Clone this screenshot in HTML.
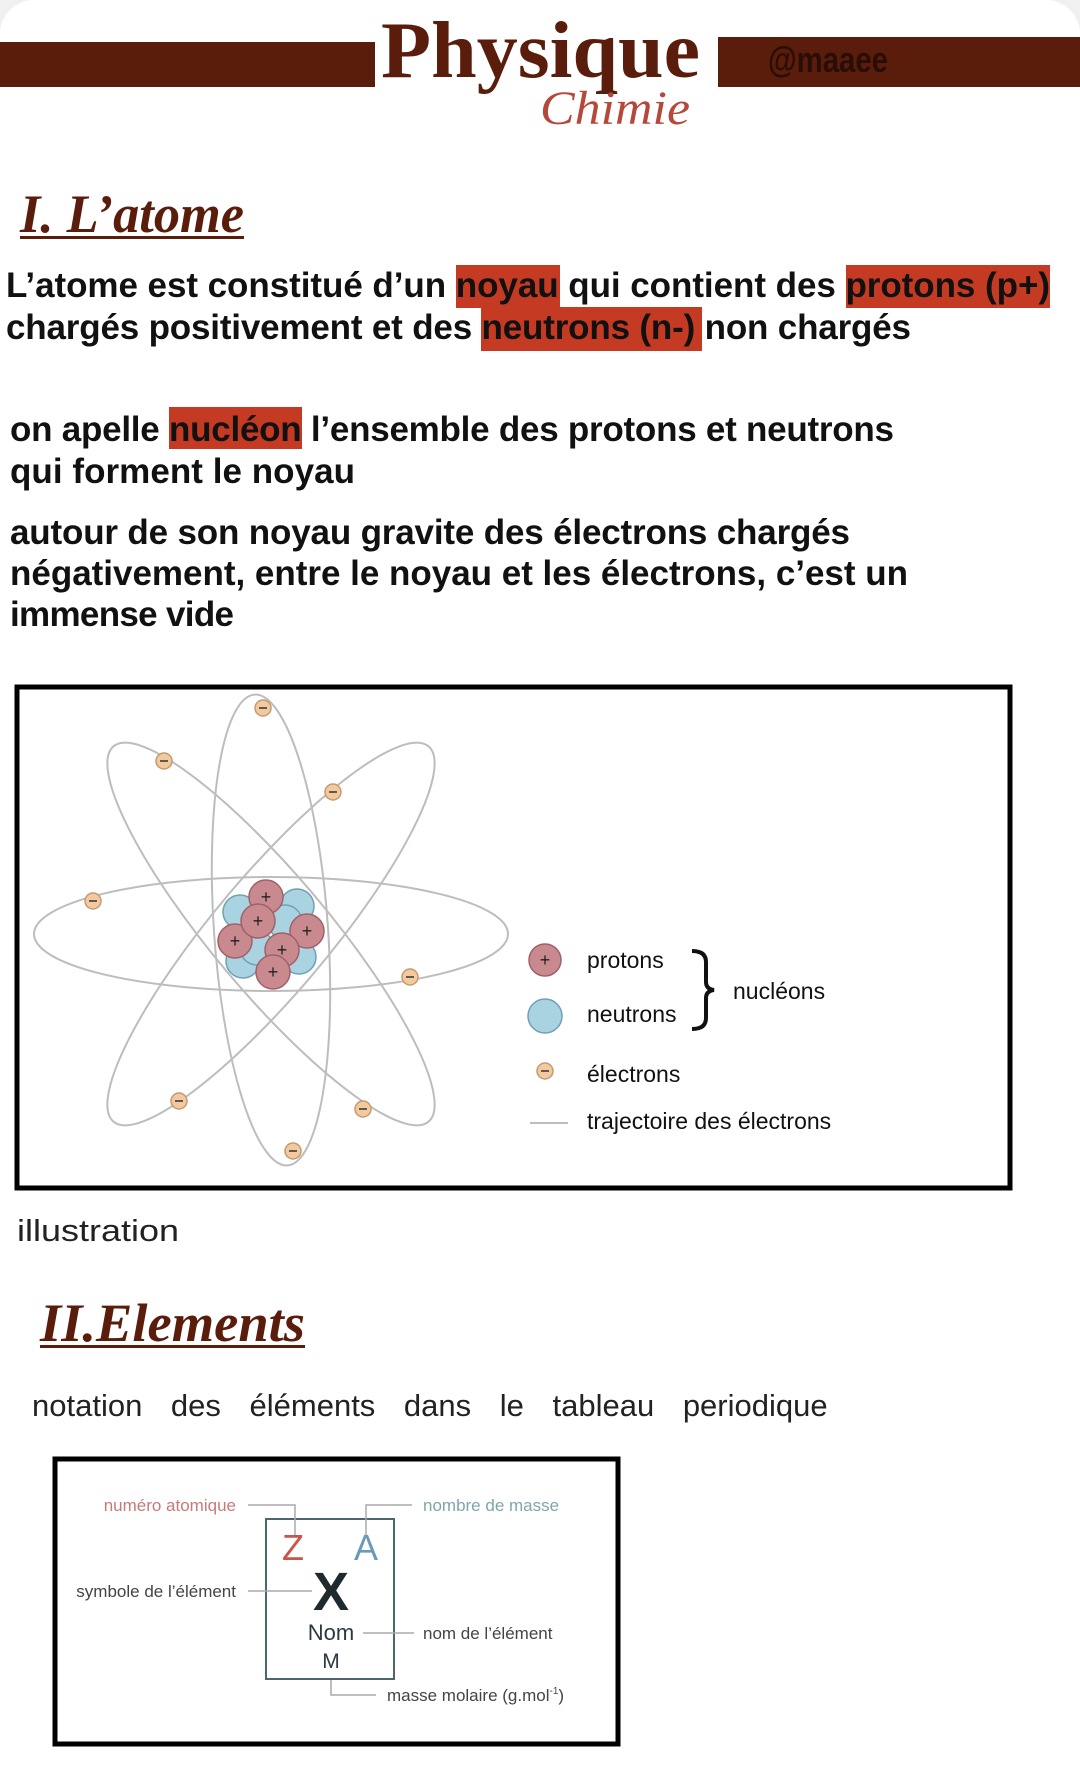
<!DOCTYPE html>
<html><head><meta charset="utf-8"><style>
html,body{margin:0;padding:0;background:#f0f0f0;}
.card{position:relative;width:1080px;height:1769px;background:#fff;border-radius:34px 34px 0 0;overflow:hidden;}
svg{position:absolute;left:0;top:0;}
</style></head><body><div class="card">
<svg width="1080" height="1769" viewBox="0 0 1080 1769" xmlns="http://www.w3.org/2000/svg">
<rect x="0" y="42" width="375" height="45" fill="#5a1d0c"/>
<rect x="718" y="37" width="362" height="50" fill="#5a1d0c"/>
<text x="768" y="72" font-family="Liberation Sans Narrow, Liberation Sans, sans-serif" font-weight="bold" font-size="36" fill="#2a0d06" textLength="120" lengthAdjust="spacingAndGlyphs">@maaee</text>
<text x="381" y="77" font-family="Liberation Serif, serif" font-weight="bold" font-size="80" fill="#5a1d0c" textLength="319" lengthAdjust="spacingAndGlyphs">Physique</text>
<text x="540" y="124" font-family="Liberation Serif, serif" font-style="italic" font-size="48" fill="#b5483a" textLength="150" lengthAdjust="spacingAndGlyphs">Chimie</text>
<text x="20" y="232" font-family="Liberation Serif, serif" font-weight="bold" font-style="italic" font-size="54" fill="#5a1d0c" textLength="224" lengthAdjust="spacingAndGlyphs">I. L’atome</text>
<rect x="20" y="236" width="224" height="3" fill="#5a1d0c"/>
<g fill="#c43a22">
<rect x="456" y="265" width="104" height="43"/>
<rect x="846" y="265" width="204" height="43"/>
<rect x="481" y="307" width="221" height="44"/>
<rect x="169" y="407" width="133" height="42"/>
</g>
<g font-family="Liberation Sans, sans-serif" font-weight="bold" font-size="35" fill="#111" lengthAdjust="spacingAndGlyphs">
<text x="6" y="297" textLength="1044">L’atome est constitué d’un noyau qui contient des protons (p+)</text>
<text x="6" y="339" textLength="905">chargés positivement et des neutrons (n-) non chargés</text>
<text x="10" y="441" textLength="884">on apelle nucléon l’ensemble des protons et neutrons</text>
<text x="10" y="483" textLength="345">qui forment le noyau</text>
<text x="10" y="544" textLength="840">autour de son noyau gravite des électrons chargés</text>
<text x="10" y="585" textLength="898">négativement, entre le noyau et les électrons, c’est un</text>
<text x="10" y="626" textLength="224">immense vide</text>
</g>
<rect x="17" y="687" width="993" height="501" fill="none" stroke="#000" stroke-width="5"/>
<g fill="none" stroke="#bdbdbd" stroke-width="2">
<ellipse cx="271" cy="934" rx="237" ry="57"/>
<ellipse cx="271" cy="930" rx="236" ry="57" transform="rotate(86 271 930)"/>
<ellipse cx="271" cy="934" rx="245" ry="58" transform="rotate(50 271 934)"/>
<ellipse cx="271" cy="934" rx="245" ry="58" transform="rotate(-50 271 934)"/>
</g>
<g fill="#f3c9a0" stroke="#c49a70" stroke-width="1.5">
<circle cx="263" cy="708" r="8"/><circle cx="164" cy="761" r="8"/><circle cx="333" cy="792" r="8"/><circle cx="93" cy="901" r="8"/><circle cx="410" cy="977" r="8"/><circle cx="179" cy="1101" r="8"/><circle cx="363" cy="1109" r="8"/><circle cx="293" cy="1151" r="8"/>
<circle cx="545" cy="1071" r="8"/>
</g>
<g stroke="#333" stroke-width="1.5">
<line x1="259" y1="708" x2="267" y2="708"/><line x1="160" y1="761" x2="168" y2="761"/><line x1="329" y1="792" x2="337" y2="792"/><line x1="89" y1="901" x2="97" y2="901"/><line x1="406" y1="977" x2="414" y2="977"/><line x1="175" y1="1101" x2="183" y2="1101"/><line x1="359" y1="1109" x2="367" y2="1109"/><line x1="289" y1="1151" x2="297" y2="1151"/><line x1="541" y1="1071" x2="549" y2="1071"/>
</g>
<g stroke-width="1.5">
<circle cx="240" cy="912" r="17" fill="#a9d3e0" stroke="#6fa0b5"/>
<circle cx="297" cy="906" r="17" fill="#a9d3e0" stroke="#6fa0b5"/>
<circle cx="285" cy="922" r="17" fill="#a9d3e0" stroke="#6fa0b5"/>
<circle cx="243" cy="961" r="17" fill="#a9d3e0" stroke="#6fa0b5"/>
<circle cx="299" cy="957" r="17" fill="#a9d3e0" stroke="#6fa0b5"/>
<circle cx="257" cy="948" r="17" fill="#a9d3e0" stroke="#6fa0b5"/>
<circle cx="266" cy="897" r="17" fill="#c98a8f" stroke="#a0606a"/>
<circle cx="307" cy="931" r="17" fill="#c98a8f" stroke="#a0606a"/>
<circle cx="235" cy="941" r="17" fill="#c98a8f" stroke="#a0606a"/>
<circle cx="258" cy="921" r="17" fill="#c98a8f" stroke="#a0606a"/>
<circle cx="282" cy="950" r="17" fill="#c98a8f" stroke="#a0606a"/>
<circle cx="273" cy="972" r="17" fill="#c98a8f" stroke="#a0606a"/>
<circle cx="545" cy="960" r="16" fill="#c98a8f" stroke="#a0606a"/>
<circle cx="545" cy="1016" r="17" fill="#a9d3e0" stroke="#6fa0b5"/>
</g>
<g font-family="Liberation Sans, sans-serif" font-size="18" fill="#222" text-anchor="middle">
<text x="266" y="903">+</text><text x="307" y="937">+</text><text x="235" y="947">+</text><text x="258" y="927">+</text><text x="282" y="956">+</text><text x="273" y="978">+</text><text x="545" y="966">+</text>
</g>
<g font-family="Liberation Sans Narrow, Liberation Sans, sans-serif" font-size="23" fill="#111">
<text x="587" y="968">protons</text>
<text x="587" y="1022">neutrons</text>
<text x="733" y="999">nucléons</text>
<text x="587" y="1082">électrons</text>
<text x="587" y="1129">trajectoire des électrons</text>
</g>
<path d="M692 951 Q706 951 706 962 L706 982 Q706 989 714 990 Q706 991 706 998 L706 1018 Q706 1029 692 1029" fill="none" stroke="#111" stroke-width="4"/>
<line x1="530" y1="1123" x2="568" y2="1123" stroke="#bdbdbd" stroke-width="2"/>
<text x="17" y="1241" font-family="Liberation Sans, sans-serif" font-size="31" fill="#222" textLength="162" lengthAdjust="spacingAndGlyphs">illustration</text>
<text x="40" y="1341" font-family="Liberation Serif, serif" font-weight="bold" font-style="italic" font-size="54" fill="#5a1d0c" textLength="265" lengthAdjust="spacingAndGlyphs">II.Elements</text>
<rect x="40" y="1345" width="265" height="3" fill="#5a1d0c"/>
<text x="32" y="1416" font-family="Liberation Sans, sans-serif" font-size="31" fill="#222" word-spacing="20">notation des éléments dans le tableau periodique</text>
<rect x="55" y="1459" width="563" height="285" fill="none" stroke="#000" stroke-width="5"/>
<rect x="266" y="1519" width="128" height="160" fill="none" stroke="#4a6670" stroke-width="2"/>
<g fill="none" stroke="#aaa" stroke-width="1.5">
<polyline points="248,1505 295,1505 295,1535"/>
<polyline points="366,1535 366,1505 412,1505"/>
<line x1="248" y1="1591" x2="312" y2="1591"/>
<line x1="363" y1="1633" x2="414" y2="1633"/>
<polyline points="331,1680 331,1695 376,1695"/>
</g>
<g font-family="Liberation Sans, sans-serif" text-anchor="middle">
<text x="293" y="1560" font-size="36" fill="#c9554a">Z</text>
<text x="366" y="1560" font-size="36" fill="#6a9ab5">A</text>
<text x="331" y="1610" font-size="54" font-weight="bold" fill="#1e2a2e">X</text>
<text x="331" y="1640" font-size="22" fill="#2b3a40">Nom</text>
<text x="331" y="1668" font-size="21" fill="#2b3a40">M</text>
</g>
<g font-family="Liberation Sans, sans-serif" font-size="17">
<text x="236" y="1511" text-anchor="end" fill="#c87a78">numéro atomique</text>
<text x="423" y="1511" fill="#7fa5ad">nombre de masse</text>
<text x="236" y="1597" text-anchor="end" fill="#444">symbole de l’élément</text>
<text x="423" y="1639" fill="#444">nom de l’élément</text>
<text x="387" y="1701" fill="#444">masse molaire (g.mol<tspan font-size="10" dy="-7">-1</tspan><tspan dy="7">)</tspan></text>
</g>
</svg>
</div></body></html>
